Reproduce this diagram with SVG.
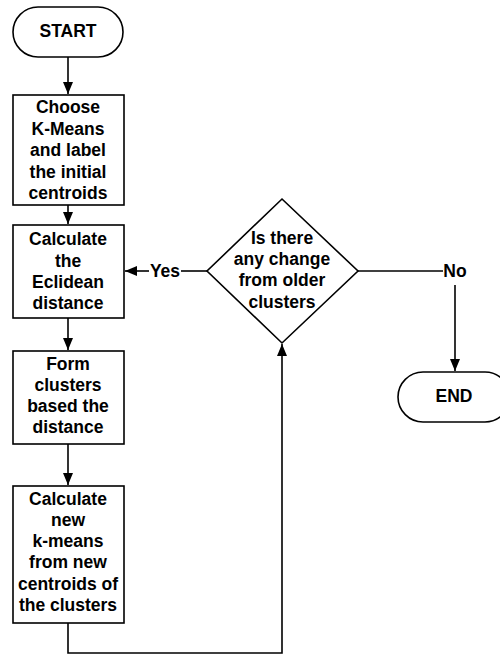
<svg xmlns="http://www.w3.org/2000/svg" width="500" height="655" viewBox="0 0 500 655">
  <style>
    .shape { fill: #ffffff; stroke: #000000; stroke-width: 1.6; }
    .line { fill: none; stroke: #000000; stroke-width: 1.6; }
    text { font-family: "Liberation Sans", Arial, sans-serif; font-weight: bold; font-size: 17.5px; fill: #000000; text-anchor: middle; dominant-baseline: central; }
  </style>
  <defs>
    <marker id="head" viewBox="0 0 12 10" refX="12" refY="5" markerWidth="12" markerHeight="10" markerUnits="userSpaceOnUse" orient="auto">
      <path d="M0,0 L12,5 L0,10 z" fill="#000000"/>
    </marker>
  </defs>
  <rect width="500" height="655" fill="#ffffff"/>

  <g id="connectors">
    <path class="line" d="M68,57 L68,94" marker-end="url(#head)"/>
    <path class="line" d="M68,205 L68,224" marker-end="url(#head)"/>
    <path class="line" d="M68,318 L68,350" marker-end="url(#head)"/>
    <path class="line" d="M68,444 L68,485" marker-end="url(#head)"/>
    <path class="line" d="M68,623 L68,653 L282,653 L282,344" marker-end="url(#head)"/>
    <path class="line" d="M207,271 L181,271"/>
    <path class="line" d="M149,271 L125,271" marker-end="url(#head)"/>
    <text x="165" y="271">Yes</text>
    <path class="line" d="M358,271 L443,271"/>
    <text x="455" y="271">No</text>
    <path class="line" d="M455,285 L455,371" marker-end="url(#head)"/>
  </g>

  <g id="start">
    <rect class="shape" x="13" y="7" width="110" height="50" rx="25" ry="25"/>
    <text x="68" y="31">START</text>
  </g>

  <g id="choose">
    <rect class="shape" x="13" y="95" width="111" height="110"/>
    <text x="68" y="107">Choose</text>
    <text x="68" y="129">K-Means</text>
    <text x="68" y="150">and label</text>
    <text x="68" y="172">the initial</text>
    <text x="68" y="193">centroids</text>
  </g>

  <g id="distance">
    <rect class="shape" x="13" y="225" width="111" height="93"/>
    <text x="68" y="239">Calculate</text>
    <text x="68" y="261">the</text>
    <text x="68" y="282">Eclidean</text>
    <text x="68" y="303">distance</text>
  </g>

  <g id="form">
    <rect class="shape" x="13" y="351" width="111" height="93"/>
    <text x="68" y="364">Form</text>
    <text x="68" y="385">clusters</text>
    <text x="68" y="406">based the</text>
    <text x="68" y="427">distance</text>
  </g>

  <g id="update">
    <rect class="shape" x="13" y="486" width="111" height="137"/>
    <text x="68" y="499">Calculate</text>
    <text x="68" y="520">new</text>
    <text x="68" y="541">k-means</text>
    <text x="68" y="562">from new</text>
    <text x="68" y="584">centroids of</text>
    <text x="68" y="605">the clusters</text>
  </g>

  <g id="decision">
    <polygon class="shape" points="282,199 358,271 282,343 207,271"/>
    <text x="282" y="238">Is there</text>
    <text x="282" y="259">any change</text>
    <text x="282" y="280">from older</text>
    <text x="282" y="302">clusters</text>
  </g>

  <g id="end">
    <rect class="shape" x="398" y="372" width="112" height="50" rx="25" ry="25"/>
    <text x="454" y="396">END</text>
  </g>
</svg>
